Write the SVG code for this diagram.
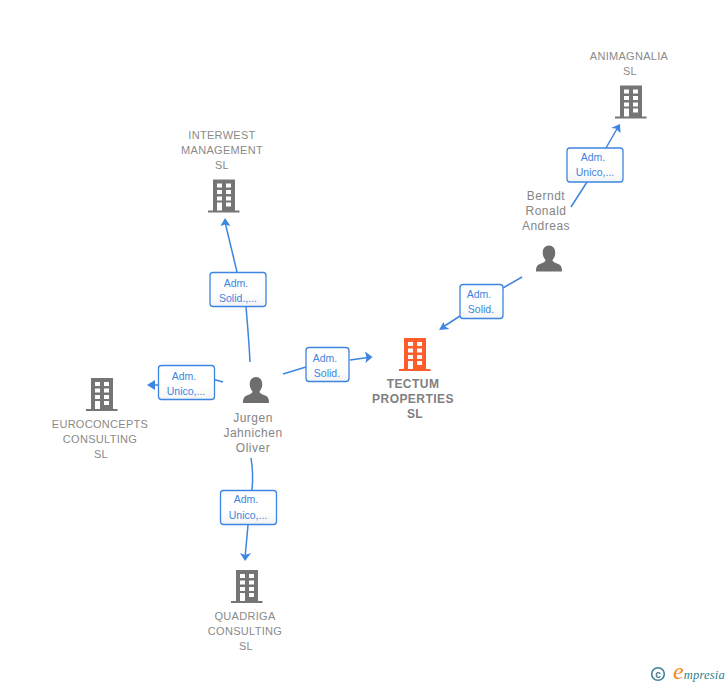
<svg xmlns="http://www.w3.org/2000/svg" width="728" height="685" viewBox="0 0 728 685">
<style>
text{font-family:"Liberation Sans",Arial,sans-serif;text-anchor:middle}
.n{font-size:11px;fill:#8a8a8a;letter-spacing:.3px}
.p{font-size:12px;fill:#858585;letter-spacing:.5px}
.c{fill:#3d85e0;font-size:10.5px}
.t{font-size:12px;fill:#808080;font-weight:bold;letter-spacing:.45px}
.l{fill:none;stroke:#3d85e0;stroke-width:1.5}
.b{fill:url(#lg);stroke:#3d85e0;stroke-width:1.3}
.a{fill:#3d85e0}
</style>
<defs>
<linearGradient id="lg" x1="0" y1="0" x2="0" y2="1"><stop offset="0" stop-color="#fff"/><stop offset=".6" stop-color="#fff"/><stop offset="1" stop-color="#f4f4f4"/></linearGradient>
<symbol id="bld" viewBox="0 0 32 34" overflow="visible">
<path fill="currentColor" d="M5 0H27V31H31.500V33H0V31H5Z"/>
<g fill="#fff"><rect x="9" y="4" width="5" height="4"/><rect x="18" y="4" width="5" height="4"/><rect x="9" y="10.500" width="5" height="4"/><rect x="18" y="10.500" width="5" height="4"/><rect x="9" y="17" width="5" height="4"/><rect x="18" y="17" width="5" height="4"/><rect x="9" y="23" width="5" height="8"/><rect x="18" y="23" width="5" height="4"/></g>
</symbol>
<symbol id="per" viewBox="0 0 28 28" overflow="visible">
<path fill="#6e6e6e" d="M14 0C18 0 20.500 3 20.500 7.500C20.500 11 19 13.500 17.500 15C18 17 20 18 23 19C26 20 27.500 22 27.500 27H.5C.5 22 2 20 5 19C8 18 10 17 10.500 15C9 13.500 7.500 11 7.500 7.500C7.500 3 10 0 14 0Z"/>
</symbol>
</defs>
<g id="connectors">
<path class="l" d="M250 362C249 340 247 320 246 306"/>
<path class="l" d="M237 272L225 222"/>
<path class="a" d="M225 218L230.500 226L225 224.500L220.500 226Z"/>
<path class="l" d="M223 382L214 379.500"/>
<path class="l" d="M158 385H151"/>
<path class="a" d="M147 385L155 380V390Z"/>
<path class="l" d="M283 374L306 367"/>
<path class="l" d="M350 360L368 357.500"/>
<path class="a" d="M372.500 357L365 351.500L366.500 357.500L365.500 363Z"/>
<path class="l" d="M251 458C253 470 253 480 252 490"/>
<path class="l" d="M248 525L245 558"/>
<path class="a" d="M245 561L240 553L245 555L251 553Z"/>
<path class="l" d="M522 277L503 288"/>
<path class="l" d="M460 316L443 327"/>
<path class="a" d="M439 330L443.500 322L445 326.500L449.500 329Z"/>
<path class="l" d="M571 207L587 182"/>
<path class="l" d="M606 148L618 127"/>
<path class="a" d="M620 124L620.500 133L615.500 128.500L611 128Z"/>
</g>
<g id="node-interwest">
<text class="n" x="222" y="139">INTERWEST</text><text class="n" x="222" y="154">MANAGEMENT</text><text class="n" x="222" y="169">SL</text>
<use href="#bld" x="208" y="179.500" width="32" height="34" color="#757575"/>
</g>
<g id="node-animagnalia">
<text class="n" x="629" y="60">ANIMAGNALIA</text><text class="n" x="630" y="75">SL</text>
<use href="#bld" x="615" y="85.500" width="32" height="34" color="#757575"/>
</g>
<g id="node-euroconcepts">
<use href="#bld" x="86" y="378" width="32" height="34" color="#757575"/>
<text class="n" x="100" y="428">EUROCONCEPTS</text><text class="n" x="100" y="443">CONSULTING</text><text class="n" x="101" y="458">SL</text>
</g>
<g id="node-quadriga">
<use href="#bld" x="231" y="570" width="32" height="34" color="#757575"/>
<text class="n" x="245" y="620">QUADRIGA</text><text class="n" x="245" y="635">CONSULTING</text><text class="n" x="246" y="650">SL</text>
</g>
<g id="node-tectum">
<use href="#bld" x="399" y="338" width="32" height="34" color="#ff5c2b"/>
<text class="t" x="413" y="388">TECTUM</text><text class="t" x="413" y="403">PROPERTIES</text><text class="t" x="415" y="418">SL</text>
</g>
<g id="node-jurgen">
<use href="#per" x="242" y="377" width="28" height="27"/>
<text class="p" x="253" y="422">Jurgen</text><text class="p" x="253" y="437">Jahnichen</text><text class="p" x="253" y="452">Oliver</text>
</g>
<g id="node-berndt">
<text class="p" x="546" y="200">Berndt</text><text class="p" x="546" y="215">Ronald</text><text class="p" x="546" y="230">Andreas</text>
<use href="#per" x="535" y="245.500" width="28" height="27"/>
</g>
<g id="label-1"><rect class="b" x="210" y="272.500" width="56" height="34" rx="3"/><text class="c" x="236" y="287">Adm.</text><text class="c" x="238" y="302">Solid.,...</text></g>
<g id="label-2"><rect class="b" x="158.500" y="365.500" width="56" height="34" rx="3"/><text class="c" x="184" y="380">Adm.</text><text class="c" x="186" y="395">Unico,...</text></g>
<g id="label-3"><rect class="b" x="306" y="347.500" width="43" height="34" rx="3"/><text class="c" x="325" y="362">Adm.</text><text class="c" x="327" y="377">Solid.</text></g>
<g id="label-4"><rect class="b" x="220.500" y="490.500" width="56" height="34" rx="3"/><text class="c" x="246" y="503">Adm.</text><text class="c" x="248" y="519">Unico,...</text></g>
<g id="label-5"><rect class="b" x="460" y="284.500" width="43" height="34" rx="3"/><text class="c" x="479" y="298">Adm.</text><text class="c" x="481" y="313">Solid.</text></g>
<g id="label-6"><rect class="b" x="567" y="148" width="56" height="34" rx="3"/><text class="c" x="593" y="161">Adm.</text><text class="c" x="595" y="176">Unico,...</text></g>
<g id="logo">
<circle cx="658" cy="674" r="6.300" fill="none" stroke="#3f7f93" stroke-width="1.600"/>
<text x="658" y="677.500" style="font-size:10px;fill:#3f7f93;font-weight:bold">c</text>
<text x="725" y="679" style="text-anchor:end;font-size:12.500px;fill:#2f7f8f;font-style:italic;font-family:'Liberation Serif',serif;letter-spacing:.2px"><tspan style="font-size:24px;fill:#f08a1d">e</tspan>mpresia</text>
</g>
</svg>
